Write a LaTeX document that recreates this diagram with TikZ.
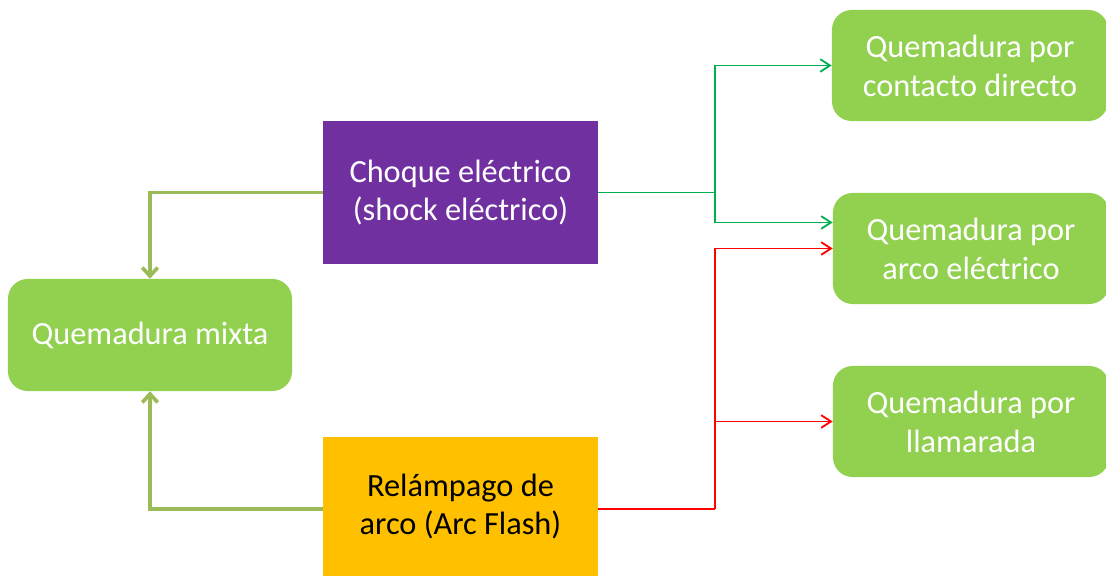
\documentclass[tikz,border=0pt]{standalone}
\usepackage{fontspec}
\setmainfont{Carlito}
\usepackage{tikz}
\usetikzlibrary{arrows.meta,positioning,calc}
\definecolor{BurnGreen}{HTML}{92D050}
\definecolor{ShockPurple}{HTML}{7030A0}
\definecolor{FlashGold}{HTML}{FFC000}
\definecolor{LinkOlive}{HTML}{9BBB59}
\definecolor{LinkGreen}{HTML}{00B050}
\definecolor{LinkRed}{HTML}{FF0000}

\begin{document}
\begin{tikzpicture}[
  x=0.025cm, y=-0.025cm,
  every node/.style={font=\fontsize{23}{27.7}\selectfont},
  burn/.style={fill=BurnGreen, rounded corners=14pt, text=white,
              minimum width=6.9cm, minimum height=2.775cm, align=center},
  cause/.style={minimum width=6.875cm, align=center},
  olive/.style={-{Straight Barb[length=6pt,width=11pt]}, draw=LinkOlive, line width=2.6pt},
  thin/.style ={-{Straight Barb[length=7pt,width=9pt]}, line width=1.3pt},
]
\useasboundingbox (0,0) rectangle (1106,576);
\node[burn, minimum width=7.1cm, minimum height=2.8cm] (mixta) at (150,335) {Quemadura mixta};
\node[cause, fill=ShockPurple, text=white, minimum height=3.575cm] (choque) at (460.5,192.5)
     {Choque eléctrico\\(shock eléctrico)};
\node[cause, fill=FlashGold, text=black, minimum height=3.475cm] (flash) at (460.5,506.5)
     {Relámpago de\\arco (Arc Flash)};
\node[burn] (contacto) at (970,65.5)  {Quemadura por\\contacto directo};
\node[burn] (arcoel)   at (971,248.5) {Quemadura por\\arco eléctrico};
\node[burn] (llama)    at (971,421.5) {Quemadura por\\llamarada};
\coordinate (jg) at (715,192.5);
\coordinate (jr) at (715,509);
\draw[olive] (choque.west) -| (mixta.north);
\draw[olive] (flash.west |- jr) -| (mixta.south);
\draw[LinkGreen, line width=1.3pt] (choque.east) -- (jg);
\draw[thin, LinkGreen] (jg) |- (contacto.west);
\draw[thin, LinkGreen] (jg) |- ([yshift=0.65cm]arcoel.west);
\draw[LinkRed, line width=1.3pt] (flash.east |- jr) -- (jr);
\draw[thin, LinkRed] (jr) |- (arcoel.west);
\draw[thin, LinkRed] (jr) |- (llama.west);
\end{tikzpicture}
\end{document}
